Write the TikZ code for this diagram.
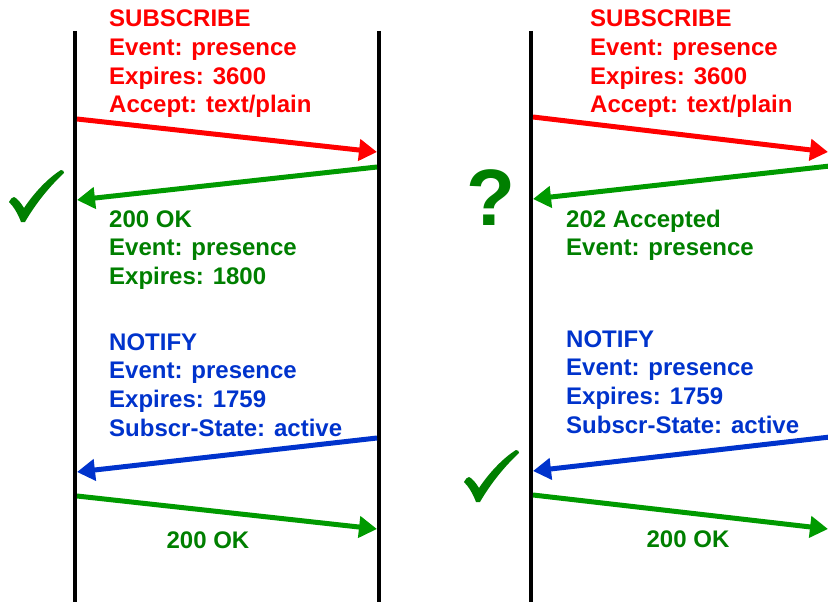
\documentclass[tikz,border=0pt]{standalone}
\usepackage{fontspec}
\setmainfont{Liberation Sans}
\usetikzlibrary{arrows.meta, positioning}
\definecolor{cred}{HTML}{FF0000}
\definecolor{carrow}{HTML}{009A00}
\definecolor{cok}{HTML}{007F00}
\definecolor{cblue}{HTML}{0033CC}

\begin{document}
\begin{tikzpicture}[
  x=1pt, y=-1pt,
  font=\fontsize{24}{28.8}\selectfont\bfseries,
  >={Triangle[length=18pt, width=21pt]},
  life/.style={line width=4pt, draw=black},
  msg/.style={->, line width=5pt},
  lbl/.style={anchor=base west, inner sep=0pt, align=left},
  tick/.pic={
    \fill[cok] (9,202) .. controls (11,199) and (12,197) .. (14,197)
      .. controls (17,198) and (21,203) .. (24,208)
      .. controls (34,193) and (48,178) .. (61,170)
      .. controls (63,170) and (64,171) .. (64,173)
      .. controls (50,186) and (36,203) .. (25,222)
      -- (21,222) .. controls (18,214) and (14,207) .. cycle;
  },
  ]
\useasboundingbox (0,0) rectangle (828,602);

% lifelines
\coordinate (aTop) at (75,31);
\coordinate (aBot) at (75,602);
\coordinate (bTop) at (379,31);
\coordinate (bBot) at (379,602);
\coordinate (cTop) at (531,31);
\coordinate (cBot) at (531,602);
\draw[life] (aTop) -- (aBot);
\draw[life] (bTop) -- (bBot);
\draw[life] (cTop) -- (cBot);

% message ends, left exchange
\coordinate (a1) at (77,119);  \coordinate (b1) at (377,152);
\coordinate (b2) at (377,167); \coordinate (a2) at (77,200);
\coordinate (b3) at (377,438); \coordinate (a3) at (77,472);
\coordinate (a4) at (77,496);  \coordinate (b4) at (377,529);
% message ends, right exchange
\coordinate (c1) at (533,117); \coordinate (d1) at (828,152);
\coordinate (d2) at (830,166); \coordinate (c2) at (533,199);
\coordinate (d3) at (830,437); \coordinate (c3) at (533,471);
\coordinate (c4) at (533,495); \coordinate (d4) at (828,529);

% left exchange (labels sit on their last line)
\node[lbl, text=cred] (subA) at (109,113) {SUBSCRIBE\\Event: presence\\Expires: 3600\\Accept: text/plain};
\node[lbl, text=cok] (okA) at (109,284.6) {200 OK\\Event: presence\\Expires: 1800};
\node[lbl, text=cblue] (notA) at (109,436.4) {NOTIFY\\Event: presence\\Expires: 1759\\Subscr-State: active};
\node[anchor=base, inner sep=0pt, text=cok] (ackA) at (208,548) {200 OK};
\pic (chkA) at (0,0) {tick};

\draw[msg, draw=cred, fill=cred] (a1) -- (b1);
\draw[msg, draw=carrow, fill=carrow] (b2) -- (a2);
\draw[msg, draw=cblue, fill=cblue] (b3) -- (a3);
\draw[msg, draw=carrow, fill=carrow] (a4) -- (b4);

% right exchange
\node[lbl, text=cred] (subB) at (590,113) {SUBSCRIBE\\Event: presence\\Expires: 3600\\Accept: text/plain};
\node[lbl, text=cok] (accB) at (566,255.8) {202 Accepted\\Event: presence};
\node[lbl, text=cblue] (notB) at (566,433.4) {NOTIFY\\Event: presence\\Expires: 1759\\Subscr-State: active};
\node[anchor=base, inner sep=0pt, text=cok] (ackB) at (688,547) {200 OK};
\node[anchor=base, inner sep=0pt, text=cok, font=\fontsize{80}{80}\selectfont\bfseries] (query) at (491,225) {?};
\pic (chkB) at (455,280) {tick};

\draw[msg, draw=cred, fill=cred] (c1) -- (d1);
\draw[msg, draw=carrow, fill=carrow] (d2) -- (c2);
\draw[msg, draw=cblue, fill=cblue] (d3) -- (c3);
\draw[msg, draw=carrow, fill=carrow] (c4) -- (d4);
\end{tikzpicture}
\end{document}
